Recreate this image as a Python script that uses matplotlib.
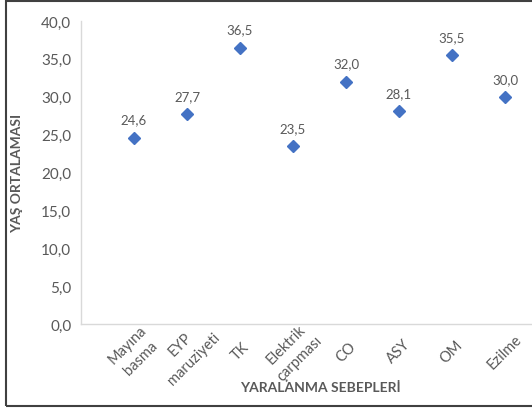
import matplotlib
matplotlib.use("Agg")
import matplotlib.pyplot as plt
from matplotlib.patches import Rectangle

categories = ["Mayına\nbasma", "EYP\nmaruziyeti", "TK", "Elektrik\nçarpması", "CO", "ASY", "OM", "Ezilme"]
values = [24.6, 27.7, 36.5, 23.5, 32.0, 28.1, 35.5, 30.0]
yticks = [0, 5, 10, 15, 20, 25, 30, 35, 40]

plt.rcParams['font.family'] = ['Lato', 'DejaVu Sans']
gray = '#595959'

fig = plt.figure(figsize=(5.32, 4.10), dpi=100)
ax = fig.add_axes([81/532, 85/410, 477/532, 303/410])

x = list(range(1, len(values) + 1))
ax.plot(x, values, linestyle='none', marker='D', markersize=6.5, color='#4472C4')
for xi, v in zip(x, values):
    ax.annotate(f"{v:.1f}".replace('.', ','), (xi, v), xytext=(0, 13), textcoords='offset points',
                ha='center', va='center', fontsize=9.5, color=gray)

ax.set_xlim(0, 9)
ax.set_ylim(0, 40)
ax.set_yticks(yticks)
ax.set_yticklabels([f"{t:.1f}".replace('.', ',') for t in yticks], fontsize=11, color=gray)
ax.set_xticks(x)
ax.set_xticklabels(categories, rotation=45, ha='center', va='center', rotation_mode='default',
                   fontsize=10.5, color=gray, multialignment='center', linespacing=1.5)
ax.tick_params(axis='both', length=0)
ax.tick_params(axis='y', pad=7)
ax.tick_params(axis='x', pad=19.5)
for s in ['top', 'right']:
    ax.spines[s].set_visible(False)
for s in ['left', 'bottom']:
    ax.spines[s].set_color('#d9d9d9')
    ax.spines[s].set_linewidth(1.0)

fig.text(17/532, 1 - 173/410, "YAŞ ORTALAMASI", rotation=90, ha='center', va='center',
         fontsize=10, fontweight='bold', color=gray)
fig.text(320/532, 1 - 388/410, "YARALANMA SEBEPLERİ", ha='center', va='center',
         fontsize=10, fontweight='bold', color=gray)

fig.patches.append(Rectangle((6/532, 3/410), 1.2, 405/410, transform=fig.transFigure,
                             fill=False, edgecolor='#404040', linewidth=1.5))

fig.savefig("out.png", dpi=100)
